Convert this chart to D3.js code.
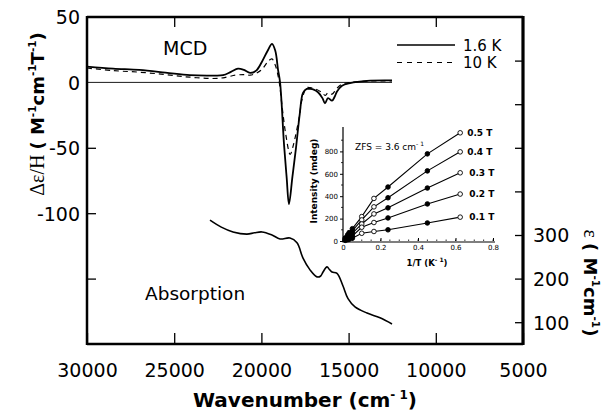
<!DOCTYPE html>
<html><head><meta charset="utf-8">
<script src="https://cdn.jsdelivr.net/npm/d3@7"></script>
<style>body{margin:0;background:#fff}svg{display:block}</style>
</head><body><svg id="c" width="603" height="412"></svg>
<script>
// ---- data ----
const mcd16K = [[30000,12],[28500,10.5],[27000,9.5],[25500,7.5],[24100,5.5],[22800,5.2],[22200,5.5],[21750,8],[21340,10.5],[21000,9.5],[20650,7.3],[20300,9],[19960,16],[19650,24],[19390,29.5],[19200,24],[19050,10],[18930,0],[18700,-48],[18550,-73],[18420,-93],[18220,-72],[18016,-50],[17800,-24],[17614,-8],[17400,-5],[17213,-5],[17000,-5.5],[16754,-7.5],[16500,-12],[16353,-16],[16181,-12],[15952,-14],[15800,-11],[15665,-7],[15378,-2.5],[14920,-0.5],[13945,1.2],[12511,1.5]];
const mcd10K = [[30000,11],[28500,9],[27000,7.8],[25500,6],[24100,4],[22800,3],[22200,3.5],[21500,5.5],[21000,6],[20650,5.5],[20300,7],[19960,10],[19620,16],[19400,18],[19200,13],[19000,2],[18800,-20],[18600,-40],[18350,-55],[18150,-47],[18000,-38],[17850,-28],[17650,-12],[17400,-4],[17200,-4],[16900,-5],[16500,-8],[16350,-10],[16180,-8],[15950,-9],[15700,-5],[15400,-1.5],[14900,0],[13900,1],[12511,1.2]];
const absorption = [[22947,334],[22300,318],[21628,307],[20825,302],[20400,305],[19966,307],[19393,300],[18933,291],[18360,293],[17959,282],[17614,247],[17213,220],[16811,204],[16600,206],[16467,215],[16238,227],[16100,221],[15952,215],[15665,212],[15321,183],[15034,154],[14633,135],[13945,121],[13200,110],[12511,96]];
const xTicks = [30000,25000,20000,15000,10000,5000];
const leftTicks = [50,0,-50,-100,-150];
const leftLabels = [50,0,-50,-100];
const rightTicks = [100,200,300,400,500,600,700];
const rightLabels = [100,200,300];
const legendLabels = ["1.6 K","10 K"];
// inset: intensity vs 1/T
const invT = [0,0.0125,0.025,0.033,0.05,0.1,0.165,0.24,0.45,0.625];
const fieldLabels = ["0.5 T","0.4 T","0.3 T","0.2 T","0.1 T"];
const int05 = [0,28,55,75,110,218,380,482,778,966];
const int04 = [0,22,45,60,90,188,305,386,626,796];
const int03 = [0,17,35,45,68,152,242,296,473,609];
const int02 = [0,11,22,30,45,123,165,206,331,419];
const int01 = [0,6,12,16,25,69,85,100,161,213];
const insetXTicks = [0,0.2,0.4,0.6,0.8];
const insetYTicks = [0,200,400,600,800];

// ---- layout ----
const svg = d3.select("#c");
const L=87,R=523,T=17,B=344;
const x = d3.scaleLinear([30000,5000],[L,R]);
const yL = d3.scaleLinear([-200,50],[B,T]);
const yR = d3.scaleLinear([50,800],[B,T]);
const FONT = "DejaVu Sans, Verdana, sans-serif";

// axes ticks
const gB = svg.append("g").attr("transform",`translate(0,${B})`)
  .call(d3.axisBottom(x).tickValues(xTicks).tickSizeInner(-11).tickSizeOuter(0).tickPadding(20).tickFormat(d3.format("d")));
const gT = svg.append("g").attr("transform",`translate(0,${T})`)
  .call(d3.axisTop(x).tickValues(xTicks.slice(1,5)).tickSizeInner(-10).tickSizeOuter(0).tickFormat(""));
const gL = svg.append("g").attr("transform",`translate(${L},0)`)
  .call(d3.axisLeft(yL).tickValues(leftTicks).tickSizeInner(-9).tickSizeOuter(0).tickPadding(7)
     .tickFormat(d=>leftLabels.includes(d)?String(d):""));
const gR = svg.append("g").attr("transform",`translate(${R},0)`)
  .call(d3.axisRight(yR).tickValues(rightTicks).tickSizeInner(-8).tickSizeOuter(0).tickPadding(10)
     .tickFormat(d=>rightLabels.includes(d)?String(d):""));
[gB,gT,gL,gR].forEach(g=>{
  g.select(".domain").remove();
  g.selectAll("line").attr("stroke","#000").attr("stroke-width",1.3);
  g.selectAll("text").attr("font-family",FONT).attr("font-size",19).attr("fill","#000");
});
gB.selectAll("text").attr("dy",null).attr("y",33);
gL.selectAll("text").attr("dy","0.36em");
gR.selectAll("text").attr("dy","0.36em");
gL.selectAll(".tick").filter(d=>d===0||d===50).select("line").remove();

// frame
svg.append("path").attr("d",`M${L},${T}H${R}`).attr("stroke","#000").attr("stroke-width",2.5);
svg.append("path").attr("d",`M${L},${B}H${R}`).attr("stroke","#000").attr("stroke-width",2.5);
svg.append("path").attr("d",`M${L},${T-1}V${B+1}`).attr("stroke","#000").attr("stroke-width",2.5);
svg.append("path").attr("d",`M${R},${T-1}V${B+1}`).attr("stroke","#000").attr("stroke-width",3.2);

// zero line
svg.append("line").attr("x1",x(30000)).attr("x2",x(12511)).attr("y1",yL(0)).attr("y2",yL(0))
  .attr("stroke","#000").attr("stroke-width",0.9);

const lineL = d3.line().x(d=>x(d[0])).y(d=>yL(d[1])).curve(d3.curveCatmullRom.alpha(0.5));
const lineR = d3.line().x(d=>x(d[0])).y(d=>yR(d[1])).curve(d3.curveCatmullRom.alpha(0.5));
svg.append("path").datum(mcd10K).attr("d",lineL).attr("fill","none").attr("stroke","#000")
  .attr("stroke-width",1.2).attr("stroke-dasharray","5,4");
svg.append("path").datum(mcd16K).attr("d",lineL).attr("fill","none").attr("stroke","#000")
  .attr("stroke-width",1.8);
svg.append("path").datum(absorption).attr("d",lineR).attr("fill","none").attr("stroke","#000")
  .attr("stroke-width",1.6);

// labels
svg.append("text").attr("x",163).attr("y",55).attr("font-family",FONT).attr("font-size",19).text("MCD");
svg.append("text").attr("x",145).attr("y",300).attr("font-family",FONT).attr("font-size",18.5).text("Absorption");

// legend
const lg = svg.append("g");
legendLabels.forEach((t,i)=>{
  const yy = 45 + i*17.5;
  lg.append("line").attr("x1",397).attr("x2",455).attr("y1",yy).attr("y2",yy).attr("stroke","#000")
    .attr("stroke-width",i?1.2:1.4).attr("stroke-dasharray",i?"5,5":null);
  lg.append("text").attr("x",463).attr("y",yy+5.5).attr("font-family",FONT).attr("font-size",15).text(t);
});

// axis titles
const xt = svg.append("text").attr("x",305).attr("y",407).attr("text-anchor","middle")
  .attr("font-family",FONT).attr("font-size",20).attr("font-weight","bold");
xt.append("tspan").text("Wavenumber  (cm");
xt.append("tspan").attr("font-size",12).attr("dy",-8).text("- 1");
xt.append("tspan").attr("dy",8).text(")");

const ytl = svg.append("text").attr("transform","translate(44,114) rotate(-90)").attr("text-anchor","middle")
  .attr("font-family",FONT).attr("font-size",18);
ytl.append("tspan").attr("font-family","Liberation Serif, serif").attr("font-size",20).text("Δε/H ");
ytl.append("tspan").attr("font-weight","bold").text("( M");
ytl.append("tspan").attr("font-weight","bold").attr("font-size",10.5).attr("dy",-8).text("-1");
ytl.append("tspan").attr("font-weight","bold").attr("dy",8).text("cm");
ytl.append("tspan").attr("font-weight","bold").attr("font-size",10.5).attr("dy",-8).text("-1");
ytl.append("tspan").attr("font-weight","bold").attr("dy",8).text("T");
ytl.append("tspan").attr("font-weight","bold").attr("font-size",10.5).attr("dy",-8).text("-1");
ytl.append("tspan").attr("font-weight","bold").attr("dy",8).text(")");

const ytr = svg.append("text").attr("transform","translate(584,283) rotate(90)").attr("text-anchor","middle")
  .attr("font-family",FONT).attr("font-size",18);
ytr.append("tspan").attr("font-family","Liberation Serif, serif").attr("font-size",20).text("ε ");
ytr.append("tspan").attr("font-weight","bold").text("( M");
ytr.append("tspan").attr("font-weight","bold").attr("font-size",10.5).attr("dy",-8).text("-1");
ytr.append("tspan").attr("font-weight","bold").attr("dy",8).text("cm");
ytr.append("tspan").attr("font-weight","bold").attr("font-size",10.5).attr("dy",-8).text("-1");
ytr.append("tspan").attr("font-weight","bold").attr("dy",8).text(")");

// ---- inset ----
const ix = d3.scaleLinear([0,0.8],[343,493]);
const iy = d3.scaleLinear([0,1000],[241,129]);
const ig = svg.append("g");
const iax = ig.append("g").attr("transform",`translate(0,241)`)
  .call(d3.axisBottom(ix).tickValues(insetXTicks).tickSizeInner(-3).tickSizeOuter(0).tickPadding(4).tickFormat(d=>d===0?"0":d3.format(".1f")(d)));
const iay = ig.append("g").attr("transform",`translate(343,0)`)
  .call(d3.axisLeft(iy).tickValues(insetYTicks).tickSizeInner(3).tickSizeOuter(0).tickPadding(2));
[iax,iay].forEach(g=>{
  g.select(".domain").remove();
  g.selectAll("line").attr("stroke","#000").attr("stroke-width",1);
  g.selectAll("text").attr("font-family",FONT).attr("font-size",7).attr("fill","#000");
});
ig.append("path").attr("d","M343,127V242H495").attr("fill","none").attr("stroke","#000").attr("stroke-width",1.2);
// minor ticks
iax.selectAll(".minor").data(d3.range(0,0.81,0.05)).enter().append("line").attr("class","minor")
  .attr("x1",d=>ix(d)).attr("x2",d=>ix(d)).attr("y1",0).attr("y2",-1.5).attr("stroke","#000").attr("stroke-width",0.8);
iay.selectAll(".minor").data(d3.range(100,1001,200)).enter().append("line").attr("class","minor")
  .attr("x1",0).attr("x2",-2).attr("y1",d=>iy(d)).attr("y2",d=>iy(d)).attr("stroke","#000").attr("stroke-width",0.8);

const series = [int05,int04,int03,int02,int01];
const iline = d3.line().x((d,i)=>ix(invT[i])).y(d=>iy(d));
series.forEach((s,k)=>{
  ig.append("path").datum(s).attr("d",iline).attr("fill","none").attr("stroke","#000").attr("stroke-width",1.1);
  ig.selectAll(null).data(s.slice(1)).enter().append("circle")
    .attr("cx",(d,i)=>ix(invT[i+1])).attr("cy",d=>iy(d)).attr("r",2.3)
    .attr("fill",(d,i)=>(i+1===7||i+1===8||i+1<=4)?"#000":"#fff")
    .attr("stroke","#000").attr("stroke-width",0.9);
  ig.append("text").attr("x",ix(invT[invT.length-1])+(k<2?7:9)).attr("y",iy(s[s.length-1])+3)
    .attr("font-family",FONT).attr("font-size",9).attr("font-weight","bold").text(fieldLabels[k]);
});
const zfs = ig.append("text").attr("x",355).attr("y",150).attr("font-family",FONT).attr("font-size",9);
zfs.append("tspan").text("ZFS = 3.6 cm");
zfs.append("tspan").attr("font-size",6).attr("dy",-4).text("- 1");
const ixt = ig.append("text").attr("x",427).attr("y",266).attr("text-anchor","middle")
  .attr("font-family",FONT).attr("font-size",8.5).attr("font-weight","bold");
ixt.append("tspan").text("1/T  (K");
ixt.append("tspan").attr("font-size",6).attr("dy",-4).text("- 1");
ixt.append("tspan").attr("dy",4).text(")");
ig.append("text").attr("transform","translate(317,181) rotate(-90)").attr("text-anchor","middle")
  .attr("font-family",FONT).attr("font-size",9).attr("font-weight","bold").text("Intensity  (mdeg)");
</script></body></html>
